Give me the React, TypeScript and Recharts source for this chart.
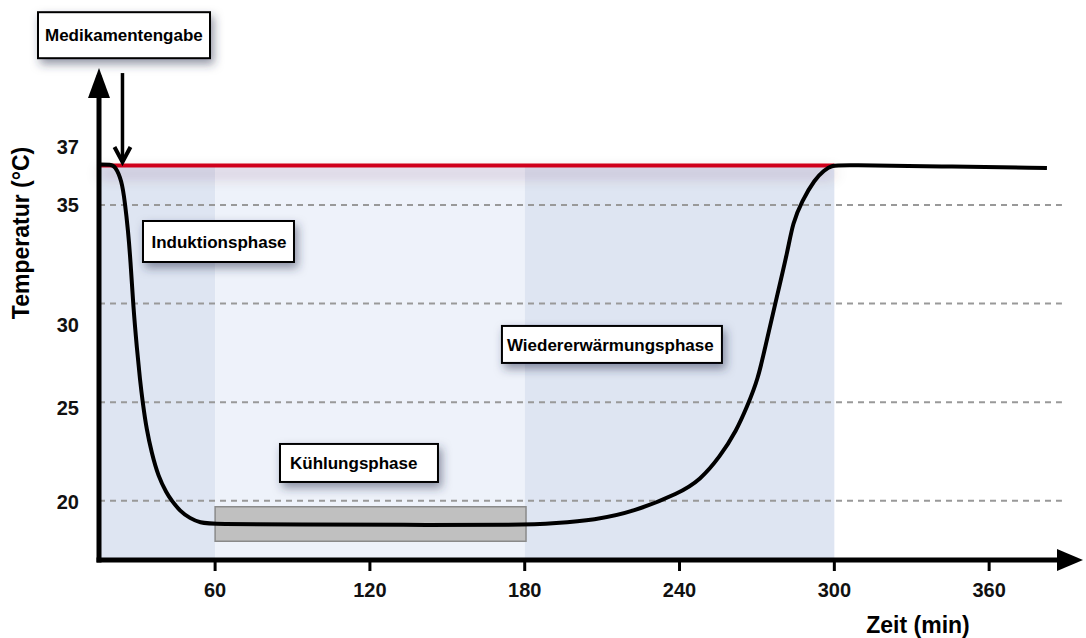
import React from 'react';
import { ComposedChart, Line, XAxis, YAxis, ReferenceArea, ReferenceLine, ReferenceDot, Label } from 'recharts';

// Temperaturverlauf (Zeit in min, Temperatur in °C)
const timeMin = [15, 19.65, 21.2, 23.8, 25.08, 26.24, 27.2, 28.18, 29.73, 30.89, 31.93, 33.48, 35.42, 37.98, 41.24, 43.17, 46.39, 50.27, 54.14, 59.18, 92.89, 131.6, 179.3, 191.7, 207.2, 221.9, 240.1, 247.9, 255.6, 262.2, 266.1, 270.4, 273.8, 277.7, 282.0, 283.9, 287.4, 292.5, 296.0, 299.0, 304.0, 340.9, 382.4];
const temperature = [37.05, 37.05, 36.98, 36.27, 35.1, 33.73, 32.21, 30.03, 27.65, 26.13, 25.0, 23.59, 22.43, 21.23, 20.38, 20.01, 19.48, 19.11, 18.89, 18.82, 18.8, 18.78, 18.77, 18.86, 19.03, 19.43, 20.4, 21.05, 22.22, 23.59, 24.76, 26.13, 28.15, 30.33, 32.72, 34.09, 35.2, 36.32, 36.75, 37.02, 37.02, 36.96, 36.88];

const xTicks = [60, 120, 180, 240, 300, 360];
const yTicks = [20, 25, 30, 35, 37];
const gridValues = [20, 25, 30, 35];

// Phasen (min)
const phaseStart = [15, 60, 180];
const phaseEnd = [60, 180, 300];
const phaseKind = ['dark', 'light', 'dark'];

const normalTemp = 37;
const coolingTargetLow = 17.95;
const coolingTargetHigh = 19.7;
const coolingTargetStart = 60;
const coolingTargetEnd = 180.5;

const drugTime = 24.1;

const annotationLabels = ['Medikamentengabe', 'Induktionsphase', 'Kühlungsphase', 'Wiedererwärmungsphase'];
const annotationX = [24.69, 61.31, 115.76, 213.8];
const annotationY = [43.61, 33.15, 21.92, 27.93];

const data = timeMin.map((t, i) => ({ t, temp: temperature[i] }));

const FONT = "'Liberation Sans', Arial, Helvetica, sans-serif";

const boxStyle: Record<string, { w: number; h: number; pad: number }> = {
  Medikamentengabe: { w: 172, h: 46, pad: 7 },
  Induktionsphase: { w: 151, h: 41, pad: 8.5 },
  'Kühlungsphase': { w: 158, h: 38, pad: 10 },
  'Wiedererwärmungsphase': { w: 220, h: 37, pad: 5 },
};

const yLabelShift: Record<number, number> = { 37: -19, 35: 0, 30: 21, 25: 6, 20: 1 };

const YTick = (props: any) => {
  const { x, y, payload } = props;
  return (
    <text x={x} y={y + (yLabelShift[payload.value] || 0)} dy="0.355em" textAnchor="end" fontFamily={FONT} fontWeight={700} fontSize={20} fill="#111">
      {payload.value}
    </text>
  );
};

const makeBox = (label: string) => (p: any) => {
  const { cx, cy } = p;
  const s = boxStyle[label];
  return (
    <g>
      <rect x={cx - s.w / 2} y={cy - s.h / 2} width={s.w} height={s.h} fill="#fff" stroke="#000" strokeWidth={2} filter="url(#boxShadow)" />
      <text x={cx - s.w / 2 + s.pad} y={cy} dy="0.36em" fontFamily={FONT} fontWeight={700} fontSize={17} fill="#000">
        {label}
      </text>
    </g>
  );
};

const DrugArrow = (p: any) => {
  const { x1, y1, y2 } = p;
  const top = Math.min(y1, y2);
  const bottom = Math.max(y1, y2);
  return (
    <g>
      <line x1={x1} y1={top} x2={x1} y2={bottom - 3} stroke="#000" strokeWidth={3.5} />
      <path d={`M${x1 - 8},${bottom - 15} L${x1},${bottom} L${x1 + 8},${bottom - 15}`} fill="none" stroke="#000" strokeWidth={4} strokeLinejoin="miter" />
    </g>
  );
};

const XTitle = (props: any) => {
  const vb = props.viewBox || { x: 0, y: 0, width: 0 };
  return (
    <text x={vb.x + vb.width - 155} y={vb.y + 73} textAnchor="middle" fontFamily={FONT} fontWeight={700} fontSize={23} fill="#000">
      Zeit (min)
    </text>
  );
};

const YTitle = (props: any) => {
  const vb = props.viewBox || { x: 0, y: 0 };
  const x = vb.x + 29;
  const y = vb.y + 155;
  return (
    <text x={x} y={y} transform={`rotate(-90 ${x} ${y})`} textAnchor="middle" fontFamily={FONT} fontWeight={700} fontSize={23} fill="#000">
      Temperatur (°C)
    </text>
  );
};

export default function App() {
  return (
    <div style={{ position: 'absolute', left: 0, top: 0, width: 1086, height: 638, background: '#fff' }}>
      <ComposedChart width={1086} height={638} data={data} margin={{ top: 78, right: 13, bottom: 28, left: 0 }}>
        <defs>
          <marker id="arrowX" markerUnits="userSpaceOnUse" markerWidth={26} markerHeight={22} refX={16} refY={11} orient="auto">
            <path d="M0,0 L26,11 L0,22 Z" fill="#000" />
          </marker>
          <marker id="arrowY" markerUnits="userSpaceOnUse" markerWidth={30} markerHeight={22} refX={20} refY={11} orient="auto-start-reverse">
            <path d="M0,0 L30,11 L0,22 Z" fill="#000" />
          </marker>
          <filter id="boxShadow" x="-20%" y="-40%" width="150%" height="200%">
            <feDropShadow dx={3} dy={5} stdDeviation={5} floodColor="#2a3050" floodOpacity={0.5} />
          </filter>
          <filter id="redShadow" filterUnits="userSpaceOnUse" x={0} y={100} width={1086} height={160}>
            <feDropShadow dx={0} dy={8} stdDeviation={7} floodColor="#5a2a3a" floodOpacity={0.4} />
          </filter>
        </defs>

        {phaseStart.map((s, i) => (
          <ReferenceArea key={`ph${i}`} x1={s} x2={phaseEnd[i]} y1={17} y2={normalTemp} fill={phaseKind[i] === 'dark' ? '#dee5f2' : '#eef2fa'} fillOpacity={1} stroke="none" ifOverflow="visible" />
        ))}

        {gridValues.map((v) => (
          <ReferenceLine key={`g${v}`} segment={[{ x: 15, y: v }, { x: 388.2, y: v }]} stroke="#999" strokeWidth={2} strokeDasharray="6 5" ifOverflow="visible" />
        ))}

        <ReferenceArea x1={coolingTargetStart} x2={coolingTargetEnd} y1={coolingTargetLow} y2={coolingTargetHigh} fill="#c0c0c0" fillOpacity={1} stroke="#8a8a8a" strokeWidth={1.5} ifOverflow="visible" />

        <ReferenceLine segment={[{ x: 15, y: normalTemp }, { x: 300, y: normalTemp }]} stroke="#d0021b" strokeWidth={4} ifOverflow="visible" filter="url(#redShadow)" />

        <Line type="basis" dataKey="temp" stroke="#000" strokeWidth={4} dot={false} activeDot={false} isAnimationActive={false} />

        <ReferenceLine segment={[{ x: drugTime, y: 41.69 }, { x: drugTime, y: 37.18 }]} ifOverflow="visible" shape={DrugArrow} />

        {annotationLabels.map((lab, i) => (
          <ReferenceDot key={lab} x={annotationX[i]} y={annotationY[i]} r={1} ifOverflow="visible" shape={makeBox(lab)} />
        ))}

        <XAxis
          type="number"
          dataKey="t"
          domain={[15, 392.5]}
          allowDataOverflow
          ticks={xTicks}
          height={50}
          axisLine={{ stroke: '#000', strokeWidth: 5, strokeLinecap: 'square', markerEnd: 'url(#arrowX)' } as any}
          tickLine={{ stroke: '#000', strokeWidth: 3 }}
          tickSize={11}
          tickMargin={12}
          tick={{ fill: '#111', fontSize: 20, fontWeight: 700, fontFamily: FONT }}
        >
          <Label content={XTitle} />
        </XAxis>
        <YAxis
          type="number"
          domain={[17, 41.44]}
          allowDataOverflow
          ticks={yTicks}
          width={99}
          axisLine={{ stroke: '#000', strokeWidth: 5, strokeLinecap: 'square', markerStart: 'url(#arrowY)' } as any}
          tickLine={false}
          tickSize={4}
          tickMargin={16}
          tick={<YTick />}
        >
          <Label content={YTitle} />
        </YAxis>
      </ComposedChart>
    </div>
  );
}
